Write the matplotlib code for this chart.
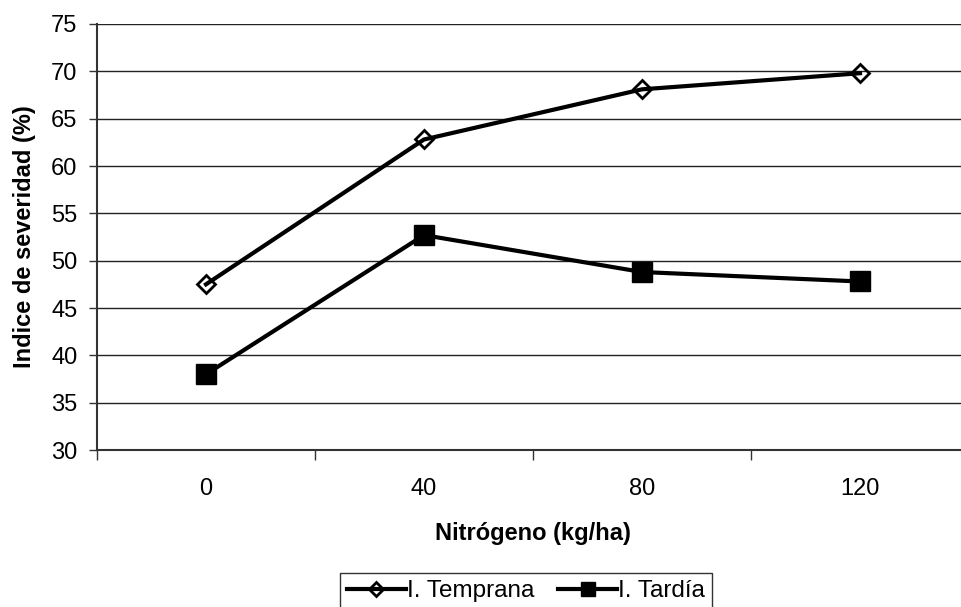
import matplotlib.pyplot as plt

plt.rcParams['font.family'] = ['Liberation Sans', 'DejaVu Sans']

# datos
nitrogeno = ['0', '40', '80', '120']
temprana = [47.5, 62.8, 68.1, 69.8]
tardia = [38.0, 52.7, 48.8, 47.8]

fig = plt.figure(figsize=(9.61, 6.07), dpi=100)
ax = fig.add_axes([97 / 961, 1 - 450 / 607, 872 / 961, 426 / 607])

x = range(len(nitrogeno))
ax.plot(x, temprana, color='black', lw=3, marker='D', ms=9,
        mfc='none', mec='black', mew=2, label='I. Temprana')
ax.plot(x, tardia, color='black', lw=3, marker='s', ms=15,
        mfc='black', mec='black', label='I. Tardía')

ax.set_xlim(-0.5, 3.5)
ax.set_ylim(30, 75)
ax.set_yticks(range(30, 80, 5))
ax.set_xticks([-0.5, 0.5, 1.5, 2.5, 3.5])
ax.set_xticklabels([])
ax.set_xticks(list(x), labels=nitrogeno, minor=True)
ax.tick_params(axis='x', which='minor', length=0, pad=20, labelsize=17)
ax.tick_params(axis='x', which='major', length=7, width=1, color='#333333')
ax.tick_params(axis='y', length=6, width=1, labelsize=17, pad=8, color='#333333')

ax.grid(axis='y', color='#222222', lw=1)
ax.set_axisbelow(True)
for s in ['top', 'right']:
    ax.spines[s].set_visible(False)
ax.spines['left'].set_color('#333333')
ax.spines['left'].set_linewidth(1.5)
ax.spines['bottom'].set_color('#333333')
ax.spines['bottom'].set_linewidth(1.5)

ax.set_xlabel('Nitrógeno (kg/ha)', fontsize=17, fontweight='bold', labelpad=16)
ax.set_ylabel('Indice de severidad (%)', fontsize=17, fontweight='bold', labelpad=11)

leg = fig.legend(loc='upper center', bbox_to_anchor=(526 / 961, 1 - 573 / 607),
                 ncol=2, fontsize=17.5, frameon=True, fancybox=False,
                 edgecolor='black', handlelength=2.4, handletextpad=0.05,
                 columnspacing=1.0, borderpad=0.3, borderaxespad=0)
leg.get_frame().set_linewidth(1)
leg.legend_handles[0].set_markersize(7)
leg.legend_handles[1].set_markersize(10)

fig.savefig('out.png', dpi=100)
